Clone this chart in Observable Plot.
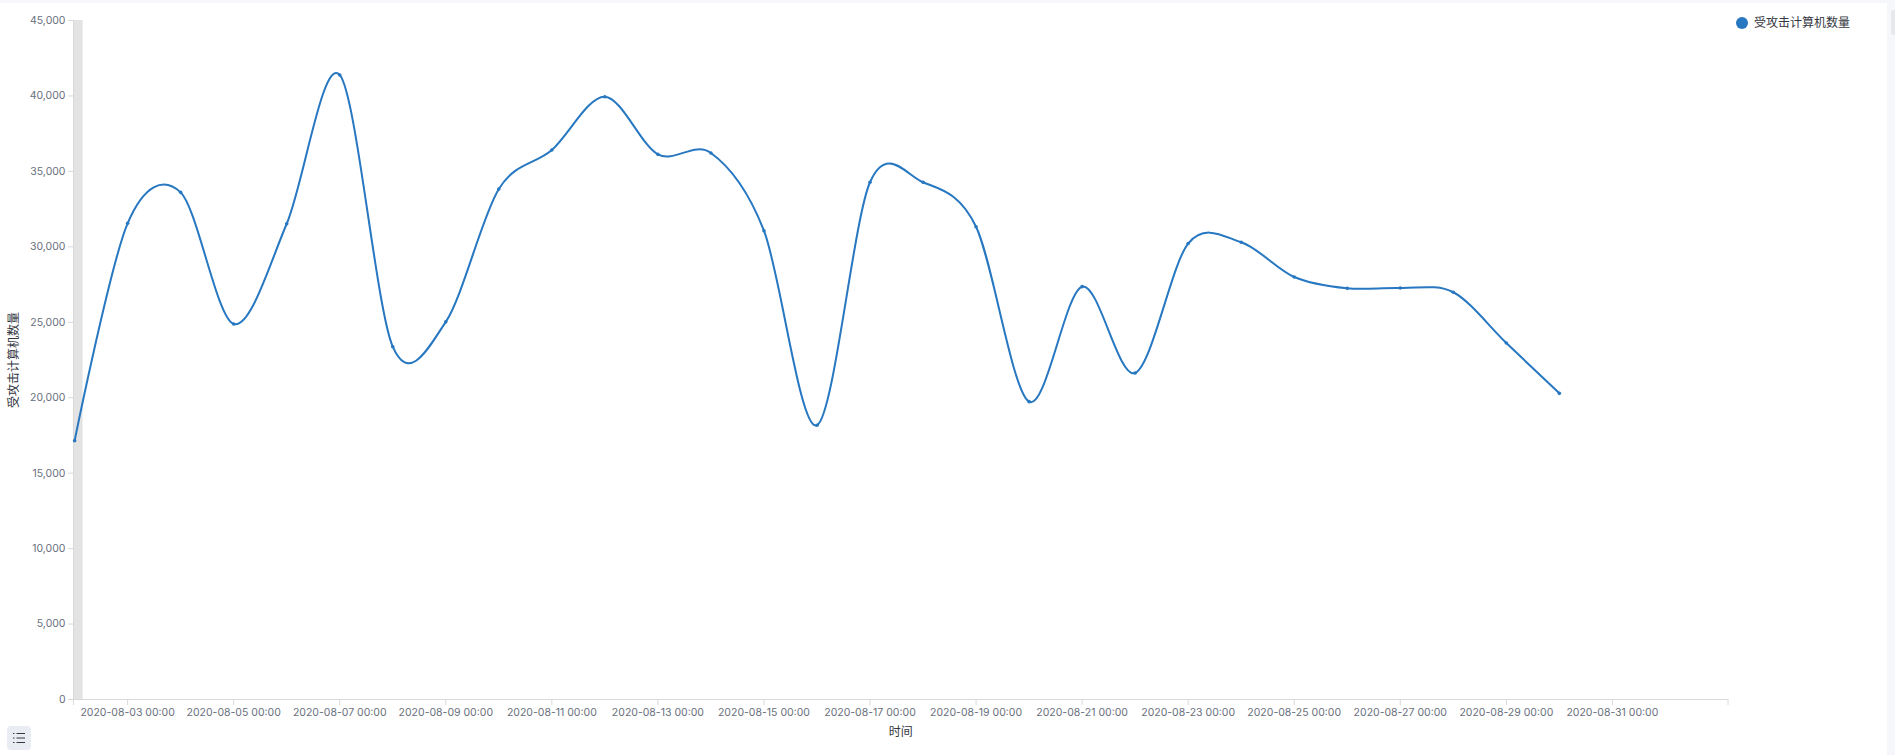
<!DOCTYPE html>
<html>
<head>
<meta charset="utf-8">
<script src="https://cdn.jsdelivr.net/npm/d3@7"></script>
<script src="https://cdn.jsdelivr.net/npm/@observablehq/plot@0.6"></script>
<style>
html,body{margin:0;padding:0;background:#fff;overflow:hidden}
#wrap{position:relative;width:1895px;height:755px;font-family:Inter,"Noto Sans CJK SC",sans-serif}
#topstrip{position:absolute;left:0;top:0;width:1895px;height:3px;background:#f5f7fa}
#sidestrip{position:absolute;left:1887px;top:3px;width:8px;height:752px;background:#f5f7fa}
#thumb{position:absolute;left:1891px;top:10px;width:4px;height:25px;background:#e6e8ec;border-radius:3px 0 0 3px}
#legend{position:absolute;left:1736px;top:14px;display:flex;align-items:center;height:17px;font-size:12px;color:#343741;line-height:17px}
#legend i{display:block;width:12px;height:12px;border-radius:50%;background:#2777c1;margin-right:6px}
#toggle{position:absolute;left:7px;top:726px;width:24px;height:24px;border-radius:4px;background:#e9edf3}
svg.plot{position:absolute;left:0;top:0}
</style>
</head>
<body>
<div id="wrap">
  <div id="chart"></div>
  <div id="topstrip"></div>
  <div id="sidestrip"></div>
  <div id="thumb"></div>
  <div id="legend"><i></i><span id="legendText"></span></div>
  <div id="toggle"><svg width="24" height="24" viewBox="0 0 24 24"><g fill="none" stroke="#343741" stroke-width="1"><path d="M9.5 7.5H18M9.5 12H18M9.5 16.5H18"/></g><g fill="#343741"><rect x="6" y="7" width="1.5" height="1"/><rect x="6" y="11.5" width="1.5" height="1"/><rect x="6" y="16" width="1.5" height="1"/></g></svg></div>
</div>
<script>
const seriesName = "受攻击计算机数量";
const xLabel = "时间";
const dates = [
  "2020-08-02","2020-08-03","2020-08-04","2020-08-05","2020-08-06","2020-08-07","2020-08-08","2020-08-09",
  "2020-08-10","2020-08-11","2020-08-12","2020-08-13","2020-08-14","2020-08-15","2020-08-16","2020-08-17",
  "2020-08-18","2020-08-19","2020-08-20","2020-08-21","2020-08-22","2020-08-23","2020-08-24","2020-08-25",
  "2020-08-26","2020-08-27","2020-08-28","2020-08-29","2020-08-30"
];
const counts = [
  17150,31560,33610,24890,31530,41390,23380,25030,
  33830,36420,39950,36130,36220,31070,18180,34280,
  34280,31330,19740,27360,21640,30220,30300,28000,
  27250,27270,26990,23630,20290
];
const tickDates = [
  "2020-08-03","2020-08-05","2020-08-07","2020-08-09","2020-08-11","2020-08-13","2020-08-15","2020-08-17",
  "2020-08-19","2020-08-21","2020-08-23","2020-08-25","2020-08-27","2020-08-29","2020-08-31"
];
const yTicks = [0,5000,10000,15000,20000,25000,30000,35000,40000,45000];
const xDomain = ["2020-08-01T23:30Z","2020-09-02T04:20Z"];
const partialBucket = ["2020-08-01T23:30Z","2020-08-02T03:50Z"];

const toDate = s => new Date(s.length === 10 ? s + "T00:00Z" : s);
const table = dates.map((d,i) => ({date: toDate(d), value: counts[i]}));
const domain = xDomain.map(toDate);
const fmtTime = d3.utcFormat("%Y-%m-%d %H:%M");
const tickSet = tickDates.map(toDate);
const axisColor = "#d9d9d9";
const lineColor = "#2777c1";
const textColor = "#69707d";

document.getElementById("legendText").textContent = seriesName;

const chart = Plot.plot({
  width: 1895,
  height: 755,
  marginTop: 20,
  marginBottom: 56,
  marginLeft: 73,
  marginRight: 167.5,
  style: {fontFamily: 'Inter,"Noto Sans CJK SC",sans-serif', fontSize: "10.5px", background: "transparent", overflow: "visible"},
  x: {type: "utc", domain, label: null},
  y: {domain: [0,45000], label: null},
  marks: [
    Plot.rectY([{a: toDate(partialBucket[0]), b: toDate(partialBucket[1])}], {x1:"a", x2:"b", y1:0, y2:45000, fill:"#e3e3e3"}),
    Plot.ruleX([domain[0]], {stroke: axisColor}),
    Plot.ruleY([0], {stroke: axisColor}),
    Plot.axisX({ticks: [domain[0], ...tickSet, domain[1]], tickSize: 6, tickPadding: 3, stroke: axisColor, fontVariant: "normal",
      tickFormat: d => tickSet.some(t => +t === +d) ? fmtTime(d) : "", label: null, fill: textColor}),
    Plot.axisY({ticks: yTicks, tickSize: 5, tickPadding: 3, stroke: axisColor, fontVariant: "normal", tickFormat: d3.format(","), label: null, fill: textColor}),
    Plot.text([xLabel], {frameAnchor:"bottom", dy: 36, text: d => d, fill:"#343741", fontSize: 12}),
    Plot.text([seriesName], {frameAnchor:"left", textAnchor:"middle", dx: -59.5, rotate:-90, text: d => d, fill:"#343741", fontSize: 12}),
    Plot.line(table, {x:"date", y:"value", stroke: lineColor, strokeWidth: 2, curve:"cardinal", tension: 0.05}),
    Plot.dot(table, {x:"date", y:"value", fill: lineColor, r: 1.8})
  ]
});
document.getElementById("chart").appendChild(chart);
</script>
</body>
</html>
